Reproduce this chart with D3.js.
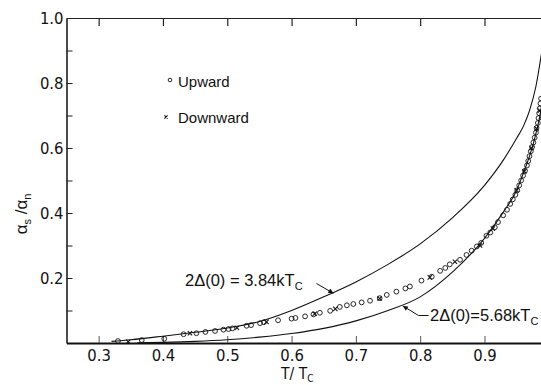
<!DOCTYPE html>
<html>
<head>
<meta charset="utf-8">
<script src="https://cdn.jsdelivr.net/npm/d3@7"></script>
<style>
  html, body { margin: 0; padding: 0; background: #fff; }
  svg { display: block; }
</style>
</head>
<body>
<div id="chart"></div>
<script>
// theory curves
const upperT = [0.32, 0.35, 0.40, 0.45, 0.50, 0.55, 0.60, 0.65, 0.70, 0.75, 0.80, 0.85, 0.90, 0.93, 0.95, 0.96, 0.97, 0.98, 0.99, 1.00];
const upperV = [0.005, 0.010, 0.021, 0.033, 0.046, 0.066, 0.100, 0.142, 0.188, 0.242, 0.305, 0.385, 0.485, 0.565, 0.630, 0.665, 0.715, 0.790, 0.905, 1.0];
const lowerT = [0.36, 0.40, 0.45, 0.50, 0.55, 0.60, 0.65, 0.70, 0.75, 0.80, 0.85, 0.90, 0.93, 0.95, 0.96, 0.97, 0.98, 0.99, 1.00];
const lowerV = [0.0005, 0.002, 0.005, 0.010, 0.018, 0.029, 0.045, 0.068, 0.100, 0.142, 0.218, 0.322, 0.405, 0.470, 0.520, 0.575, 0.645, 0.750, 1.0];

// measured points
const upwardT = [0.330, 0.367, 0.402, 0.432, 0.452, 0.466, 0.481, 0.494, 0.502, 0.508, 0.530, 0.537, 0.551, 0.557, 0.579, 0.600, 0.606, 0.621, 0.634, 0.644, 0.660, 0.675, 0.686, 0.696, 0.709, 0.722, 0.737, 0.748, 0.763, 0.777, 0.784, 0.802, 0.818, 0.831, 0.839, 0.846, 0.862, 0.872, 0.880, 0.888, 0.895, 0.903, 0.909, 0.916, 0.921, 0.929, 0.935, 0.940, 0.944, 0.948, 0.951, 0.954, 0.957, 0.960, 0.963, 0.966, 0.968, 0.970, 0.972, 0.974, 0.976, 0.978, 0.980, 0.981, 0.983, 0.984, 0.985, 0.986, 0.987, 0.988];
const upwardV = [0.006, 0.009, 0.013, 0.027, 0.030, 0.034, 0.037, 0.041, 0.043, 0.045, 0.053, 0.055, 0.061, 0.064, 0.070, 0.075, 0.077, 0.082, 0.088, 0.093, 0.099, 0.111, 0.116, 0.120, 0.125, 0.130, 0.138, 0.148, 0.158, 0.168, 0.174, 0.192, 0.204, 0.222, 0.231, 0.242, 0.256, 0.271, 0.284, 0.297, 0.308, 0.330, 0.340, 0.356, 0.372, 0.393, 0.410, 0.428, 0.442, 0.456, 0.470, 0.485, 0.500, 0.515, 0.530, 0.546, 0.560, 0.575, 0.590, 0.603, 0.617, 0.632, 0.647, 0.662, 0.677, 0.692, 0.707, 0.722, 0.737, 0.752];
const downwardT = [0.346, 0.442, 0.515, 0.561, 0.636, 0.668, 0.737, 0.815, 0.854, 0.893, 0.913, 0.950, 0.962, 0.973, 0.981, 0.986];
const downwardV = [0.004, 0.030, 0.047, 0.065, 0.090, 0.105, 0.137, 0.202, 0.250, 0.300, 0.352, 0.470, 0.528, 0.600, 0.660, 0.715];

const xMajor = [0.3, 0.4, 0.5, 0.6, 0.7, 0.8, 0.9];
const yMajor = [0.2, 0.4, 0.6, 0.8, 1.0];
const yMinor = [0.1, 0.3, 0.5, 0.7, 0.9];

const width = 541, height = 385;
const font = "'Liberation Sans', Arial, sans-serif";
const narrow = "'Liberation Sans Narrow', 'DejaVu Sans Condensed', 'Liberation Sans', sans-serif";

const svg = d3.select("#chart").append("svg")
  .attr("width", width)
  .attr("height", height);

const x = d3.scaleLinear().domain([0.25, 1.0]).range([66.5, 548.8]);
const y = d3.scaleLinear().domain([0, 1.0]).range([343, 18]);

// frame: top axis with ticks pointing down
svg.append("g")
  .attr("transform", "translate(0," + y(1.0) + ")")
  .call(d3.axisTop(x).tickValues(xMajor).tickSize(-8).tickSizeOuter(0).tickFormat(""))
  .call(g => g.selectAll("line, path").attr("stroke", "#222").attr("stroke-width", 1.2));

// bottom axis
svg.append("g")
  .attr("transform", "translate(0," + y(0) + ")")
  .call(d3.axisBottom(x).tickValues(xMajor).tickSize(-7).tickSizeOuter(0).tickPadding(6).tickFormat(d3.format(".1f")))
  .call(g => g.select(".domain").attr("stroke", "#111").attr("stroke-width", 1.8))
  .call(g => g.selectAll(".tick line").attr("stroke", "#555").attr("stroke-width", 1))
  .call(g => g.selectAll("text").attr("font-family", narrow).attr("font-stretch", "condensed")
    .attr("font-size", 16.5).attr("fill", "#111"));

// left axis, major and minor ticks pointing inwards
svg.append("g")
  .attr("transform", "translate(" + x(0.25) + ",0)")
  .call(d3.axisLeft(y).tickValues(yMajor).tickSize(-6).tickSizeOuter(0).tickPadding(3).tickFormat(d3.format(".1f")))
  .call(g => g.select(".domain").attr("stroke", "#111").attr("stroke-width", 1.5))
  .call(g => g.selectAll(".tick line").attr("stroke", "#222"))
  .call(g => g.selectAll("text").attr("font-family", narrow).attr("font-stretch", "condensed")
    .attr("font-size", 16.5).attr("fill", "#111"));

svg.append("g")
  .attr("transform", "translate(" + x(0.25) + ",0)")
  .call(d3.axisLeft(y).tickValues(yMinor).tickSize(-6).tickSizeOuter(0).tickFormat(""))
  .call(g => g.select(".domain").remove())
  .call(g => g.selectAll(".tick line").attr("stroke", "#222"));

// theory curves
const line = d3.line()
  .x(d => x(d[0]))
  .y(d => y(d[1]))
  .curve(d3.curveMonotoneX);

svg.append("path")
  .datum(d3.zip(upperT, upperV))
  .attr("d", line)
  .attr("fill", "none")
  .attr("stroke", "#111")
  .attr("stroke-width", 1.1);

svg.append("path")
  .datum(d3.zip(lowerT, lowerV))
  .attr("d", line)
  .attr("fill", "none")
  .attr("stroke", "#111")
  .attr("stroke-width", 1.1);

// data points
svg.append("g")
  .selectAll("circle")
  .data(d3.zip(upwardT, upwardV))
  .enter()
  .append("circle")
  .attr("cx", d => x(d[0]))
  .attr("cy", d => y(d[1]))
  .attr("r", 2.4)
  .attr("fill", "none")
  .attr("stroke", "#111")
  .attr("stroke-width", 0.9);

const cross = d3.symbol(d3.symbolTimes, 14);
svg.append("g")
  .selectAll("path")
  .data(d3.zip(downwardT, downwardV))
  .enter()
  .append("path")
  .attr("transform", d => "translate(" + x(d[0]) + "," + y(d[1]) + ")")
  .attr("d", cross)
  .attr("fill", "none")
  .attr("stroke", "#111")
  .attr("stroke-width", 1.1);

// legend
svg.append("circle")
  .attr("cx", 170).attr("cy", 80).attr("r", 1.8)
  .attr("fill", "none").attr("stroke", "#111").attr("stroke-width", 0.9);
svg.append("text")
  .attr("x", 178).attr("y", 87)
  .attr("font-family", font).attr("font-size", 15).attr("fill", "#111")
  .text("Upward");
svg.append("path")
  .attr("transform", "translate(166,117)")
  .attr("d", d3.symbol(d3.symbolTimes, 8))
  .attr("fill", "none").attr("stroke", "#111").attr("stroke-width", 1.1);
svg.append("text")
  .attr("x", 178).attr("y", 123)
  .attr("font-family", font).attr("font-size", 15).attr("fill", "#111")
  .text("Downward");

// annotations
svg.append("defs").append("marker")
  .attr("id", "head")
  .attr("viewBox", "0 0 10 10")
  .attr("refX", 10).attr("refY", 5)
  .attr("markerWidth", 7).attr("markerHeight", 5)
  .attr("markerUnits", "userSpaceOnUse")
  .attr("orient", "auto")
  .append("path")
  .attr("d", "M0,0L10,5L0,10z")
  .attr("fill", "#111");

const tipU = [x(0.665), y(0.153)];
svg.append("path")
  .attr("d", "M316.5,283.5L" + tipU[0] + "," + tipU[1])
  .attr("fill", "none").attr("stroke", "#111").attr("stroke-width", 1)
  .attr("marker-end", "url(#head)");

const tipL = [x(0.773), y(0.114)];
svg.append("path")
  .attr("d", "M428.5,315.5L418.5,315.5L" + tipL[0] + "," + tipL[1])
  .attr("fill", "none").attr("stroke", "#111").attr("stroke-width", 1)
  .attr("marker-end", "url(#head)");

function label(xp, yp, main) {
  const t = svg.append("text")
    .attr("x", xp).attr("y", yp)
    .attr("font-family", font).attr("font-size", 16.5).attr("fill", "#111");
  t.append("tspan").text(main);
  t.append("tspan").attr("font-size", 11).attr("dy", 4).text("C");
}
label(185, 286, "2\u0394(0) = 3.84kT");
label(430, 321, "2\u0394(0)=5.68kT");

// axis titles
const xt = svg.append("text")
  .attr("x", 281).attr("y", 379)
  .attr("font-family", narrow).attr("font-stretch", "condensed")
  .attr("font-size", 15.5).attr("fill", "#111");
xt.append("tspan").text("T/ T");
xt.append("tspan").attr("font-size", 10).attr("dy", 3).text("C");

const yt = svg.append("text")
  .attr("transform", "translate(27,214) rotate(-90)")
  .attr("text-anchor", "middle")
  .attr("font-family", font).attr("font-size", 17).attr("fill", "#111");
yt.append("tspan").text("\u03b1");
yt.append("tspan").attr("font-size", 11).attr("dy", 4).text("s");
yt.append("tspan").attr("dy", -4).text(" /\u03b1");
yt.append("tspan").attr("font-size", 11).attr("dy", 4).text("n");
</script>
</body>
</html>
